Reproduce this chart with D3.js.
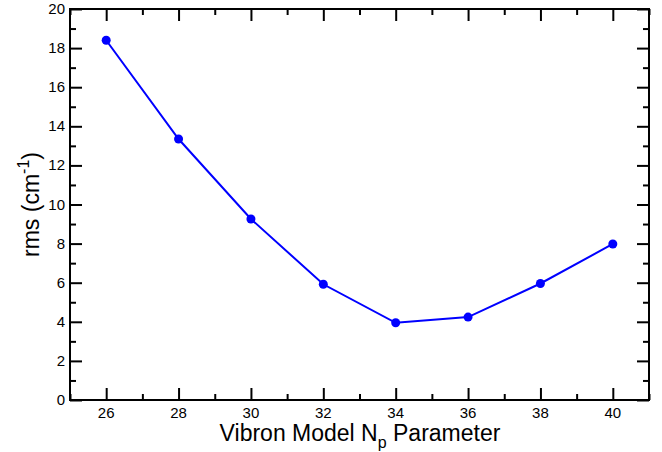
<!DOCTYPE html>
<html><head><meta charset="utf-8">
<script src="https://cdn.jsdelivr.net/npm/d3@7"></script>
<style>body{margin:0;background:#fff}svg{display:block}text{font-family:"Liberation Sans",Arial,sans-serif}</style>
</head><body>
<svg id="c" width="662" height="452"></svg>
<script>
const xValues = [26, 28, 30, 32, 34, 36, 38, 40];
const rmsValues = [18.4, 13.35, 9.26, 5.92, 3.95, 4.24, 5.96, 7.98];
const xTicks = [26, 28, 30, 32, 34, 36, 38, 40];
const yTicks = [0, 2, 4, 6, 8, 10, 12, 14, 16, 18, 20];

const svg = d3.select("#c");
const L = 70, R = 649, T = 9, B = 400;
const x = d3.scaleLinear().domain([25, 41]).range([L, R]);
const y = d3.scaleLinear().domain([0, 20]).range([B, T]);

const xMinor = d3.range(25, 42, 1).filter(v => v % 2 === 1);
const yMinor = d3.range(1, 20, 2);

const g = svg.append("g");
g.append("rect").attr("x", L).attr("y", T).attr("width", R - L).attr("height", B - T)
  .attr("fill", "none").attr("stroke", "#000").attr("stroke-width", 2);

function ticks(axisFn, scale, vals, size, transform) {
  const a = g.append("g").attr("transform", transform)
    .call(axisFn(scale).tickValues(vals).tickSize(size).tickFormat(""));
  a.select(".domain").remove();
  a.selectAll("line").attr("stroke", "#000").attr("stroke-width", 2);
  return a;
}
ticks(d3.axisTop, x, xTicks, 12, `translate(0,${B})`);
ticks(d3.axisTop, x, xMinor, 6, `translate(0,${B})`);
ticks(d3.axisBottom, x, xTicks, 12, `translate(0,${T})`);
ticks(d3.axisBottom, x, xMinor, 6, `translate(0,${T})`);
ticks(d3.axisRight, y, yTicks, 12, `translate(${L},0)`);
ticks(d3.axisRight, y, yMinor, 6, `translate(${L},0)`);
ticks(d3.axisLeft, y, yTicks, 12, `translate(${R},0)`);
ticks(d3.axisLeft, y, yMinor, 6, `translate(${R},0)`);

g.selectAll(".xl").data(xTicks).enter().append("text")
  .attr("x", d => x(d)).attr("y", B + 18).attr("text-anchor", "middle")
  .attr("font-size", 15).attr("fill", "#000").text(d => d);
g.selectAll(".yl").data(yTicks).enter().append("text")
  .attr("x", L - 5).attr("y", d => y(d) + 5).attr("text-anchor", "end")
  .attr("font-size", 15).attr("fill", "#000").text(d => d);

const line = d3.line().x((d, i) => x(xValues[i])).y(d => y(d));
g.append("path").datum(rmsValues).attr("d", line).attr("fill", "none")
  .attr("stroke", "#0000ff").attr("stroke-width", 2);
g.selectAll(".pt").data(rmsValues).enter().append("circle")
  .attr("cx", (d, i) => x(xValues[i])).attr("cy", d => y(d)).attr("r", 4.5)
  .attr("fill", "#0000ff");

const xt = g.append("text").attr("x", 360).attr("y", 441).attr("text-anchor", "middle")
  .attr("font-size", 23).attr("fill", "#000");
xt.append("tspan").text("Vibron Model N");
xt.append("tspan").attr("font-size", 16).attr("dy", 7).text("p");
xt.append("tspan").attr("dy", -7).text(" Parameter");

const yt = g.append("text").attr("transform", `translate(39,${(T + B) / 2}) rotate(-90)`)
  .attr("text-anchor", "middle").attr("font-size", 23).attr("fill", "#000");
yt.append("tspan").text("rms (cm");
yt.append("tspan").attr("font-size", 16).attr("dy", -10).text("-1");
yt.append("tspan").attr("dy", 10).text(")");
</script>
</body></html>
